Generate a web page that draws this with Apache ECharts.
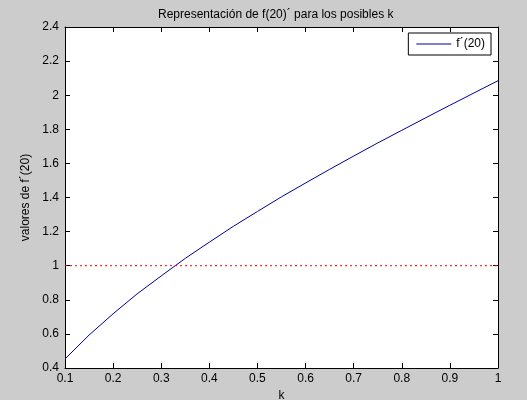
<!DOCTYPE html>
<html>
<head>
<meta charset="utf-8">
<script src="https://cdn.jsdelivr.net/npm/echarts@6/dist/echarts.min.js"></script>
<style>
html,body{margin:0;padding:0;background:#cccccc;}
#chart{width:527px;height:400px;}
</style>
</head>
<body>
<div id="chart"></div>
<script>
var kValues = [0.1, 0.15, 0.2, 0.25, 0.3, 0.35, 0.4, 0.45, 0.5, 0.55, 0.6, 0.65, 0.7, 0.75, 0.8, 0.85, 0.9, 0.95, 1.0];
var fprimeValues = [0.453, 0.593, 0.718, 0.835, 0.94, 1.043, 1.138, 1.231, 1.318, 1.404, 1.485, 1.565, 1.643, 1.72, 1.794, 1.868, 1.941, 2.013, 2.085];
var refK = [0.1, 1.0];
var refValues = [1, 1];
var xTicks = {min: 0.1, max: 1, interval: 0.1};
var yTicks = {min: 0.4, max: 2.4, interval: 0.2};

var lineData = kValues.map(function(k, i){ return [k, fprimeValues[i]]; });
var refData = refK.map(function(k, i){ return [k, refValues[i]]; });

var font = 'Liberation Sans, Arial, sans-serif';
var chart = echarts.init(document.getElementById('chart'), null, {renderer: 'canvas'});

function axisBase(extra){
  var base = {
    type: 'value',
    axisLine: {show: true, onZero: false, lineStyle: {color: '#000', width: 1}},
    axisTick: {show: true, inside: true, length: 5, lineStyle: {color: '#000'}},
    splitLine: {show: false}
  };
  for (var key in extra) base[key] = extra[key];
  return base;
}

chart.setOption({
  backgroundColor: '#cccccc',
  animation: false,
  title: {
    text: 'Representación de f(20)´ para los posibles k',
    left: 153, top: 4,
    textStyle: {fontFamily: font, fontSize: 12, fontWeight: 'normal', color: '#000'}
  },
  legend: {
    data: [{name: 'f´(20)', icon: 'rect'}],
    right: 36, top: 33,
    orient: 'vertical',
    backgroundColor: '#fff',
    borderColor: '#000', borderWidth: 1, borderRadius: 0,
    padding: [5, 6, 5, 8],
    itemWidth: 35, itemHeight: 1, itemGap: 5,
    textStyle: {fontFamily: font, fontSize: 12, color: '#000'}
  },
  grid: {left: 65, right: 29, top: 27, bottom: 32, show: true, backgroundColor: '#fff', borderWidth: 0, outerBoundsMode: 'none', containLabel: false},
  xAxis: [
    axisBase({
      min: xTicks.min, max: xTicks.max, interval: xTicks.interval, position: 'bottom',
      name: 'k', nameLocation: 'middle', nameGap: 22,
      nameTextStyle: {fontFamily: font, fontSize: 12, color: '#000'},
      axisLabel: {fontFamily: font, fontSize: 12, color: '#000', margin: 5}
    }),
    axisBase({
      min: xTicks.min, max: xTicks.max, interval: xTicks.interval, position: 'top',
      axisLabel: {show: false}
    })
  ],
  yAxis: [
    axisBase({
      min: yTicks.min, max: yTicks.max, interval: yTicks.interval, position: 'left',
      name: 'valores de f´(20)', nameLocation: 'middle', nameGap: 24,
      nameTextStyle: {fontFamily: font, fontSize: 12, color: '#000'},
      axisLabel: {fontFamily: font, fontSize: 12, color: '#000', margin: 6}
    }),
    axisBase({
      min: yTicks.min, max: yTicks.max, interval: yTicks.interval, position: 'right',
      axisLabel: {show: false}
    })
  ],
  series: [
    {
      name: 'f´(20)', type: 'line', data: lineData, xAxisIndex: 0, yAxisIndex: 0,
      symbol: 'none', smooth: false,
      lineStyle: {color: '#00009a', width: 1},
      itemStyle: {color: '#00009a'}
    },
    {
      name: 'ref', type: 'line', data: refData, xAxisIndex: 0, yAxisIndex: 0,
      symbol: 'none',
      lineStyle: {color: '#ff0000', width: 1, type: [2, 3]},
      itemStyle: {color: '#ff0000'}
    }
  ]
});
</script>
</body>
</html>
